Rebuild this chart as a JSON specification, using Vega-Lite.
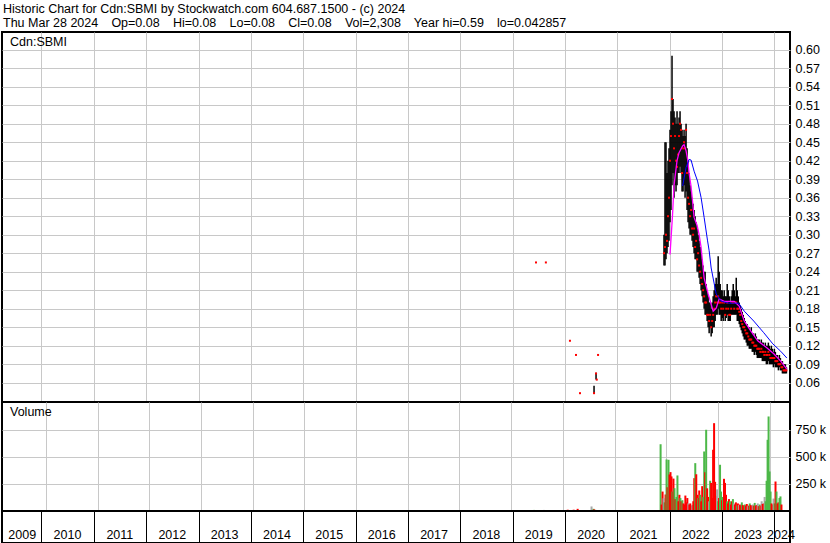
{
  "$schema": "https://vega.github.io/schema/vega-lite/v6.json",
  "padding": {"left": 1, "right": 0, "top": 2, "bottom": 1},
  "background": "white",
  "bounds": "flush",
  "config": {
    "font": "Liberation Sans",
    "view": {"stroke": "#000", "strokeWidth": 2},
    "concat": {"spacing": 0},
    "axis": {"labelFont": "Liberation Sans", "labelFontSize": 12.5, "labelColor": "#000", "gridColor": "#c8c8c8", "gridOpacity": 1, "domain": false, "ticks": false, "labelOverlap": false}
  },
  "title": {
    "text": ["Historic Chart for Cdn:SBMI by Stockwatch.com 604.687.1500 - (c) 2024", "Thu Mar 28 2024\u2002\u00a0 Op=0.08\u2002\u00a0 Hi=0.08\u2002\u00a0 Lo=0.08\u2002\u00a0 Cl=0.08\u2002\u00a0 Vol=2,308\u2002\u00a0 Year hi=0.59\u2002\u00a0 lo=0.042857"],
    "anchor": "start", "frame": "bounds", "fontSize": 12.5, "fontWeight": "normal", "color": "#000", "lineHeight": 14, "offset": 2, "dx": 2
  },
  "datasets": {
    "px": [
      {"d":"2019-06-13","h":0.255,"l":0.255,"c":0.255,"v":10000,"dir":"up"},
      {"d":"2019-08-21","h":0.255,"l":0.255,"c":0.255,"v":10000,"dir":"flat"},
      {"d":"2020-02-05","h":0.128,"l":0.128,"c":0.128,"v":12000,"dir":"down"},
      {"d":"2020-03-18","h":0.105,"l":0.105,"c":0.105,"v":12000,"dir":"down"},
      {"d":"2020-04-15","h":0.043,"l":0.043,"c":0.043,"v":20000,"dir":"down"},
      {"d":"2020-07-22","h":0.055,"l":0.043,"c":0.043,"v":42000,"dir":"flat"},
      {"d":"2020-08-05","h":0.076,"l":0.065,"c":0.075,"v":20000,"dir":"up"},
      {"d":"2020-08-10","h":0.065,"l":0.065,"c":0.065,"v":15000,"dir":"down"},
      {"d":"2020-08-19","h":0.105,"l":0.105,"c":0.105,"v":10000,"dir":"up"},
      {"d":"2021-11-22","h":0.30,"l":0.25,"c":0.27,"v":618000,"dir":"up"},
      {"d":"2021-11-29","h":0.45,"l":0.25,"c":0.28,"v":60000,"dir":"down"},
      {"d":"2021-12-06","h":0.45,"l":0.26,"c":0.30,"v":180000,"dir":"down"},
      {"d":"2021-12-13","h":0.40,"l":0.27,"c":0.29,"v":118000,"dir":"flat"},
      {"d":"2021-12-20","h":0.42,"l":0.28,"c":0.33,"v":80000,"dir":"up"},
      {"d":"2021-12-27","h":0.44,"l":0.29,"c":0.36,"v":153000,"dir":"down"},
      {"d":"2022-01-03","h":0.47,"l":0.32,"c":0.42,"v":477000,"dir":"up"},
      {"d":"2022-01-10","h":0.50,"l":0.34,"c":0.46,"v":220000,"dir":"down"},
      {"d":"2022-01-17","h":0.59,"l":0.38,"c":0.52,"v":474000,"dir":"up"},
      {"d":"2022-01-24","h":0.52,"l":0.40,"c":0.48,"v":338000,"dir":"down"},
      {"d":"2022-01-31","h":0.50,"l":0.36,"c":0.44,"v":360000,"dir":"down"},
      {"d":"2022-02-07","h":0.49,"l":0.38,"c":0.46,"v":320000,"dir":"down"},
      {"d":"2022-02-14","h":0.48,"l":0.37,"c":0.42,"v":180000,"dir":"up"},
      {"d":"2022-02-21","h":0.50,"l":0.38,"c":0.41,"v":300000,"dir":"down"},
      {"d":"2022-02-28","h":0.48,"l":0.40,"c":0.43,"v":211000,"dir":"up"},
      {"d":"2022-03-07","h":0.49,"l":0.40,"c":0.46,"v":110000,"dir":"down"},
      {"d":"2022-03-14","h":0.50,"l":0.41,"c":0.48,"v":130000,"dir":"up"},
      {"d":"2022-03-21","h":0.48,"l":0.40,"c":0.47,"v":329000,"dir":"up"},
      {"d":"2022-03-28","h":0.47,"l":0.37,"c":0.40,"v":90000,"dir":"down"},
      {"d":"2022-04-04","h":0.46,"l":0.37,"c":0.44,"v":150000,"dir":"down"},
      {"d":"2022-04-11","h":0.47,"l":0.38,"c":0.45,"v":120000,"dir":"up"},
      {"d":"2022-04-18","h":0.46,"l":0.36,"c":0.44,"v":90000,"dir":"down"},
      {"d":"2022-04-25","h":0.48,"l":0.37,"c":0.47,"v":100000,"dir":"up"},
      {"d":"2022-05-02","h":0.44,"l":0.34,"c":0.40,"v":70000,"dir":"down"},
      {"d":"2022-05-09","h":0.42,"l":0.32,"c":0.36,"v":60000,"dir":"down"},
      {"d":"2022-05-16","h":0.40,"l":0.31,"c":0.35,"v":143000,"dir":"down"},
      {"d":"2022-05-23","h":0.38,"l":0.30,"c":0.33,"v":80000,"dir":"down"},
      {"d":"2022-05-30","h":0.37,"l":0.30,"c":0.34,"v":120000,"dir":"down"},
      {"d":"2022-06-06","h":0.36,"l":0.29,"c":0.31,"v":70000,"dir":"flat"},
      {"d":"2022-06-13","h":0.35,"l":0.28,"c":0.30,"v":60000,"dir":"down"},
      {"d":"2022-06-20","h":0.34,"l":0.27,"c":0.31,"v":70000,"dir":"down"},
      {"d":"2022-06-27","h":0.33,"l":0.26,"c":0.28,"v":50000,"dir":"down"},
      {"d":"2022-07-04","h":0.32,"l":0.26,"c":0.29,"v":55000,"dir":"flat"},
      {"d":"2022-07-11","h":0.31,"l":0.24,"c":0.26,"v":90000,"dir":"down"},
      {"d":"2022-07-18","h":0.30,"l":0.24,"c":0.27,"v":304000,"dir":"down"},
      {"d":"2022-07-25","h":0.29,"l":0.23,"c":0.25,"v":443000,"dir":"up"},
      {"d":"2022-08-01","h":0.28,"l":0.22,"c":0.24,"v":340000,"dir":"down"},
      {"d":"2022-08-08","h":0.27,"l":0.21,"c":0.23,"v":150000,"dir":"down"},
      {"d":"2022-08-15","h":0.26,"l":0.20,"c":0.22,"v":120000,"dir":"up"},
      {"d":"2022-08-22","h":0.25,"l":0.19,"c":0.21,"v":190000,"dir":"down"},
      {"d":"2022-08-29","h":0.24,"l":0.18,"c":0.20,"v":150000,"dir":"up"},
      {"d":"2022-09-05","h":0.24,"l":0.17,"c":0.19,"v":90000,"dir":"down"},
      {"d":"2022-09-12","h":0.22,"l":0.17,"c":0.19,"v":230000,"dir":"down"},
      {"d":"2022-09-19","h":0.21,"l":0.16,"c":0.17,"v":130000,"dir":"up"},
      {"d":"2022-09-26","h":0.20,"l":0.15,"c":0.17,"v":551000,"dir":"up"},
      {"d":"2022-10-03","h":0.19,"l":0.14,"c":0.16,"v":359000,"dir":"down"},
      {"d":"2022-10-10","h":0.19,"l":0.15,"c":0.17,"v":752000,"dir":"up"},
      {"d":"2022-10-17","h":0.18,"l":0.135,"c":0.15,"v":210000,"dir":"down"},
      {"d":"2022-10-24","h":0.19,"l":0.14,"c":0.16,"v":130000,"dir":"down"},
      {"d":"2022-10-31","h":0.20,"l":0.15,"c":0.17,"v":90000,"dir":"flat"},
      {"d":"2022-11-07","h":0.21,"l":0.15,"c":0.18,"v":280000,"dir":"up"},
      {"d":"2022-11-14","h":0.22,"l":0.16,"c":0.19,"v":260000,"dir":"down"},
      {"d":"2022-11-21","h":0.23,"l":0.17,"c":0.20,"v":120000,"dir":"down"},
      {"d":"2022-11-28","h":0.22,"l":0.17,"c":0.19,"v":567000,"dir":"down"},
      {"d":"2022-12-05","h":0.265,"l":0.18,"c":0.20,"v":813000,"dir":"down"},
      {"d":"2022-12-12","h":0.24,"l":0.17,"c":0.19,"v":270000,"dir":"down"},
      {"d":"2022-12-19","h":0.22,"l":0.17,"c":0.19,"v":140000,"dir":"down"},
      {"d":"2022-12-26","h":0.21,"l":0.16,"c":0.18,"v":200000,"dir":"flat"},
      {"d":"2023-01-02","h":0.21,"l":0.165,"c":0.19,"v":90000,"dir":"up"},
      {"d":"2023-01-09","h":0.20,"l":0.16,"c":0.18,"v":120000,"dir":"down"},
      {"d":"2023-01-16","h":0.21,"l":0.17,"c":0.19,"v":428000,"dir":"up"},
      {"d":"2023-01-23","h":0.20,"l":0.16,"c":0.17,"v":180000,"dir":"up"},
      {"d":"2023-01-30","h":0.20,"l":0.165,"c":0.18,"v":100000,"dir":"down"},
      {"d":"2023-02-06","h":0.22,"l":0.17,"c":0.19,"v":130000,"dir":"up"},
      {"d":"2023-02-13","h":0.21,"l":0.16,"c":0.18,"v":298000,"dir":"down"},
      {"d":"2023-02-20","h":0.20,"l":0.16,"c":0.17,"v":260000,"dir":"down"},
      {"d":"2023-02-27","h":0.19,"l":0.16,"c":0.17,"v":150000,"dir":"down"},
      {"d":"2023-03-06","h":0.20,"l":0.17,"c":0.18,"v":90000,"dir":"up"},
      {"d":"2023-03-13","h":0.21,"l":0.17,"c":0.19,"v":70000,"dir":"down"},
      {"d":"2023-03-20","h":0.22,"l":0.17,"c":0.19,"v":110000,"dir":"down"},
      {"d":"2023-03-27","h":0.21,"l":0.17,"c":0.18,"v":90000,"dir":"up"},
      {"d":"2023-04-03","h":0.20,"l":0.17,"c":0.19,"v":60000,"dir":"down"},
      {"d":"2023-04-10","h":0.23,"l":0.17,"c":0.19,"v":90000,"dir":"down"},
      {"d":"2023-04-17","h":0.21,"l":0.16,"c":0.18,"v":110000,"dir":"up"},
      {"d":"2023-04-24","h":0.20,"l":0.16,"c":0.18,"v":70000,"dir":"flat"},
      {"d":"2023-05-01","h":0.19,"l":0.155,"c":0.175,"v":60000,"dir":"down"},
      {"d":"2023-05-08","h":0.185,"l":0.15,"c":0.17,"v":80000,"dir":"down"},
      {"d":"2023-05-15","h":0.18,"l":0.145,"c":0.16,"v":50000,"dir":"up"},
      {"d":"2023-05-22","h":0.175,"l":0.14,"c":0.155,"v":70000,"dir":"down"},
      {"d":"2023-05-29","h":0.17,"l":0.135,"c":0.15,"v":55000,"dir":"flat"},
      {"d":"2023-06-05","h":0.165,"l":0.13,"c":0.15,"v":60000,"dir":"down"},
      {"d":"2023-06-12","h":0.16,"l":0.13,"c":0.145,"v":50000,"dir":"down"},
      {"d":"2023-06-19","h":0.155,"l":0.125,"c":0.14,"v":80000,"dir":"up"},
      {"d":"2023-06-26","h":0.155,"l":0.12,"c":0.14,"v":55000,"dir":"down"},
      {"d":"2023-07-03","h":0.15,"l":0.12,"c":0.135,"v":45000,"dir":"down"},
      {"d":"2023-07-10","h":0.15,"l":0.115,"c":0.13,"v":60000,"dir":"up"},
      {"d":"2023-07-17","h":0.145,"l":0.115,"c":0.13,"v":50000,"dir":"down"},
      {"d":"2023-07-24","h":0.15,"l":0.115,"c":0.13,"v":65000,"dir":"down"},
      {"d":"2023-07-31","h":0.14,"l":0.11,"c":0.125,"v":45000,"dir":"flat"},
      {"d":"2023-08-07","h":0.14,"l":0.11,"c":0.125,"v":50000,"dir":"down"},
      {"d":"2023-08-14","h":0.135,"l":0.105,"c":0.12,"v":70000,"dir":"up"},
      {"d":"2023-08-21","h":0.14,"l":0.11,"c":0.12,"v":55000,"dir":"down"},
      {"d":"2023-08-28","h":0.135,"l":0.105,"c":0.12,"v":45000,"dir":"down"},
      {"d":"2023-09-04","h":0.13,"l":0.10,"c":0.115,"v":60000,"dir":"flat"},
      {"d":"2023-09-11","h":0.13,"l":0.10,"c":0.115,"v":50000,"dir":"down"},
      {"d":"2023-09-18","h":0.13,"l":0.10,"c":0.115,"v":75000,"dir":"up"},
      {"d":"2023-09-25","h":0.125,"l":0.10,"c":0.11,"v":50000,"dir":"down"},
      {"d":"2023-10-02","h":0.13,"l":0.10,"c":0.115,"v":55000,"dir":"down"},
      {"d":"2023-10-09","h":0.125,"l":0.095,"c":0.11,"v":70000,"dir":"flat"},
      {"d":"2023-10-16","h":0.125,"l":0.095,"c":0.11,"v":45000,"dir":"down"},
      {"d":"2023-10-23","h":0.12,"l":0.095,"c":0.105,"v":60000,"dir":"up"},
      {"d":"2023-10-30","h":0.125,"l":0.095,"c":0.11,"v":50000,"dir":"down"},
      {"d":"2023-11-06","h":0.12,"l":0.09,"c":0.105,"v":90000,"dir":"flat"},
      {"d":"2023-11-13","h":0.12,"l":0.09,"c":0.105,"v":65000,"dir":"down"},
      {"d":"2023-11-20","h":0.125,"l":0.095,"c":0.11,"v":70000,"dir":"down"},
      {"d":"2023-11-27","h":0.12,"l":0.09,"c":0.105,"v":130000,"dir":"flat"},
      {"d":"2023-12-04","h":0.115,"l":0.09,"c":0.10,"v":90000,"dir":"up"},
      {"d":"2023-12-11","h":0.12,"l":0.09,"c":0.10,"v":280000,"dir":"up"},
      {"d":"2023-12-18","h":0.115,"l":0.09,"c":0.10,"v":659000,"dir":"up"},
      {"d":"2023-12-25","h":0.11,"l":0.085,"c":0.10,"v":875000,"dir":"up"},
      {"d":"2024-01-01","h":0.115,"l":0.09,"c":0.10,"v":366000,"dir":"up"},
      {"d":"2024-01-08","h":0.11,"l":0.085,"c":0.095,"v":180000,"dir":"up"},
      {"d":"2024-01-15","h":0.105,"l":0.085,"c":0.095,"v":70000,"dir":"down"},
      {"d":"2024-01-22","h":0.105,"l":0.085,"c":0.095,"v":60000,"dir":"down"},
      {"d":"2024-01-29","h":0.10,"l":0.08,"c":0.09,"v":115000,"dir":"flat"},
      {"d":"2024-02-05","h":0.105,"l":0.085,"c":0.09,"v":70000,"dir":"up"},
      {"d":"2024-02-12","h":0.10,"l":0.08,"c":0.09,"v":273000,"dir":"down"},
      {"d":"2024-02-19","h":0.095,"l":0.08,"c":0.085,"v":180000,"dir":"up"},
      {"d":"2024-02-26","h":0.095,"l":0.075,"c":0.085,"v":70000,"dir":"down"},
      {"d":"2024-03-04","h":0.09,"l":0.075,"c":0.08,"v":80000,"dir":"down"},
      {"d":"2024-03-11","h":0.09,"l":0.075,"c":0.08,"v":120000,"dir":"up"},
      {"d":"2024-03-18","h":0.09,"l":0.075,"c":0.08,"v":135000,"dir":"up"},
      {"d":"2024-03-25","h":0.085,"l":0.075,"c":0.08,"v":60000,"dir":"down"}
    ],
    "ma_short": [
      {"d":"2022-01-03","m":0.268},{"d":"2022-01-20","m":0.33},{"d":"2022-01-31","m":0.38},{"d":"2022-02-21","m":0.42},
      {"d":"2022-03-07","m":0.433},{"d":"2022-04-01","m":0.444},{"d":"2022-04-11","m":0.446},{"d":"2022-04-25","m":0.436},
      {"d":"2022-05-06","m":0.422},{"d":"2022-05-16","m":0.40},{"d":"2022-05-30","m":0.378},{"d":"2022-06-09","m":0.355},
      {"d":"2022-06-20","m":0.328},{"d":"2022-07-11","m":0.315},{"d":"2022-07-25","m":0.30},{"d":"2022-08-08","m":0.279},
      {"d":"2022-08-29","m":0.23},{"d":"2022-09-26","m":0.204},{"d":"2022-10-31","m":0.176},{"d":"2022-11-21","m":0.181},
      {"d":"2022-12-12","m":0.196},{"d":"2023-01-16","m":0.192},{"d":"2023-03-27","m":0.192},{"d":"2023-05-01","m":0.184},
      {"d":"2023-06-05","m":0.160},{"d":"2023-07-20","m":0.144},{"d":"2023-09-07","m":0.128},{"d":"2023-11-13","m":0.116},
      {"d":"2023-12-28","m":0.107},{"d":"2024-02-14","m":0.095},{"d":"2024-03-28","m":0.082}
    ],
    "ma_long": [
      {"d":"2022-04-01","m":0.379},{"d":"2022-04-25","m":0.409},{"d":"2022-05-16","m":0.422},{"d":"2022-05-30","m":0.421},
      {"d":"2022-06-20","m":0.403},{"d":"2022-07-14","m":0.387},{"d":"2022-08-08","m":0.36},{"d":"2022-08-29","m":0.328},
      {"d":"2022-09-22","m":0.29},{"d":"2022-10-03","m":0.274},{"d":"2022-10-17","m":0.246},{"d":"2022-11-21","m":0.204},
      {"d":"2022-12-26","m":0.192},{"d":"2023-02-17","m":0.189},{"d":"2023-04-27","m":0.189},{"d":"2023-06-05","m":0.176},
      {"d":"2023-08-10","m":0.160},{"d":"2023-10-19","m":0.141},{"d":"2023-12-21","m":0.123},{"d":"2024-02-14","m":0.111},
      {"d":"2024-03-28","m":0.100}
    ],
    "years": [
      {"d":"2009-08-20","y":"2009"},{"d":"2010-07-02","y":"2010"},{"d":"2011-07-02","y":"2011"},{"d":"2012-07-02","y":"2012"},
      {"d":"2013-07-02","y":"2013"},{"d":"2014-07-02","y":"2014"},{"d":"2015-07-02","y":"2015"},{"d":"2016-07-02","y":"2016"},
      {"d":"2017-07-02","y":"2017"},{"d":"2018-07-02","y":"2018"},{"d":"2019-07-02","y":"2019"},{"d":"2020-07-02","y":"2020"},
      {"d":"2021-07-02","y":"2021"},{"d":"2022-07-02","y":"2022"},{"d":"2023-07-02","y":"2023"},{"d":"2024-02-16","y":"2024"}
    ]
  },
  "vconcat": [
    {
      "width": 788, "height": 370,
      "title": {"text": "Cdn:SBMI", "anchor": "start", "frame": "group", "offset": -16, "dx": 8, "fontSize": 12.5, "fontWeight": "normal", "color": "#000"},
      "encoding": {
        "x": {"field": "d", "type": "temporal", "scale": {"type": "utc", "domain": ["2009-04-01", "2024-04-19"]},
              "axis": {"title": null, "labels": false, "grid": true, "tickCount": 30, "values": [
                {"year":2010,"month":1,"date":1,"utc":true},{"year":2011,"month":1,"date":1,"utc":true},{"year":2012,"month":1,"date":1,"utc":true},
                {"year":2013,"month":1,"date":1,"utc":true},{"year":2014,"month":1,"date":1,"utc":true},{"year":2015,"month":1,"date":1,"utc":true},
                {"year":2016,"month":1,"date":1,"utc":true},{"year":2017,"month":1,"date":1,"utc":true},{"year":2018,"month":1,"date":1,"utc":true},
                {"year":2019,"month":1,"date":1,"utc":true},{"year":2020,"month":1,"date":1,"utc":true},{"year":2021,"month":1,"date":1,"utc":true},
                {"year":2022,"month":1,"date":1,"utc":true},{"year":2023,"month":1,"date":1,"utc":true},{"year":2024,"month":1,"date":1,"utc":true}]}}
      },
      "layer": [
        {
          "data": {"name": "px"},
          "mark": {"type": "rule", "color": "#000", "strokeWidth": 1.5},
          "encoding": {
            "y": {"field": "l", "type": "quantitative", "scale": {"domain": [0.0287, 0.6287], "nice": false, "zero": false},
                  "axis": {"title": null, "orient": "right", "grid": true, "labelPadding": 5, "format": ".2f", "labelOverlap": false, "tickCount": 30,
                           "values": [0.06,0.09,0.12,0.15,0.18,0.21,0.24,0.27,0.30,0.33,0.36,0.39,0.42,0.45,0.48,0.51,0.54,0.57,0.60]}},
            "y2": {"field": "h"}
          }
        },
        {
          "data": {"name": "px"},
          "mark": {"type": "square", "color": "#ff0000", "size": 4, "opacity": 1},
          "encoding": {"y": {"field": "c", "type": "quantitative"}}
        },
        {
          "data": {"name": "ma_short"},
          "mark": {"type": "line", "color": "#ff00ff", "strokeWidth": 1.3},
          "encoding": {"y": {"field": "m", "type": "quantitative"}}
        },
        {
          "data": {"name": "ma_long"},
          "mark": {"type": "line", "color": "#0000ff", "strokeWidth": 1},
          "encoding": {"y": {"field": "m", "type": "quantitative"}}
        }
      ]
    },
    {
      "width": 788, "height": 109,
      "title": {"text": "Volume", "anchor": "start", "frame": "group", "offset": -16, "dx": 8, "fontSize": 12.5, "fontWeight": "normal", "color": "#000"},
      "data": {"name": "px"},
      "mark": {"type": "bar", "size": 2},
      "encoding": {
        "x": {"field": "d", "type": "temporal", "scale": {"type": "utc", "domain": ["2009-04-01", "2024-04-19"]},
              "axis": {"title": null, "labels": false, "grid": true, "tickCount": 30, "values": [
                {"year":2010,"month":1,"date":1,"utc":true},{"year":2011,"month":1,"date":1,"utc":true},{"year":2012,"month":1,"date":1,"utc":true},
                {"year":2013,"month":1,"date":1,"utc":true},{"year":2014,"month":1,"date":1,"utc":true},{"year":2015,"month":1,"date":1,"utc":true},
                {"year":2016,"month":1,"date":1,"utc":true},{"year":2017,"month":1,"date":1,"utc":true},{"year":2018,"month":1,"date":1,"utc":true},
                {"year":2019,"month":1,"date":1,"utc":true},{"year":2020,"month":1,"date":1,"utc":true},{"year":2021,"month":1,"date":1,"utc":true},
                {"year":2022,"month":1,"date":1,"utc":true},{"year":2023,"month":1,"date":1,"utc":true},{"year":2024,"month":1,"date":1,"utc":true}]}},
        "y": {"field": "v", "type": "quantitative", "scale": {"domain": [0, 1009000], "nice": false},
              "axis": {"title": null, "orient": "right", "grid": true, "labelPadding": 5, "tickCount": 10, "values": [250000, 500000, 750000], "labelExpr": "datum.value / 1000 + ' k'"}},
        "color": {"field": "dir", "type": "nominal", "scale": {"domain": ["up", "down", "flat"], "range": ["#4cb848", "#ff0000", "#a8a8a8"]}, "legend": null}
      }
    },
    {
      "width": 788, "height": 32,
      "encoding": {
        "x": {"field": "d", "type": "temporal", "scale": {"type": "utc", "domain": ["2009-04-01", "2024-04-19"]},
              "axis": {"title": null, "labels": false, "grid": true, "gridColor": "#000", "tickCount": 30, "values": [
                {"year":2010,"month":1,"date":1,"utc":true},{"year":2011,"month":1,"date":1,"utc":true},{"year":2012,"month":1,"date":1,"utc":true},
                {"year":2013,"month":1,"date":1,"utc":true},{"year":2014,"month":1,"date":1,"utc":true},{"year":2015,"month":1,"date":1,"utc":true},
                {"year":2016,"month":1,"date":1,"utc":true},{"year":2017,"month":1,"date":1,"utc":true},{"year":2018,"month":1,"date":1,"utc":true},
                {"year":2019,"month":1,"date":1,"utc":true},{"year":2020,"month":1,"date":1,"utc":true},{"year":2021,"month":1,"date":1,"utc":true},
                {"year":2022,"month":1,"date":1,"utc":true},{"year":2023,"month":1,"date":1,"utc":true},{"year":2024,"month":1,"date":1,"utc":true}]}}
      },
      "layer": [
        {
          "data": {"name": "years"},
          "mark": {"type": "text", "fontSize": 12.5, "color": "#000", "baseline": "middle", "align": "center"},
          "encoding": {
            "y": {"datum": 0.5, "type": "quantitative", "scale": {"domain": [0, 2], "nice": false, "zero": false}, "axis": null},
            "text": {"field": "y"}
          }
        },
        {
          "data": {"values": [{}]},
          "mark": {"type": "rule", "color": "#000", "strokeWidth": 2},
          "encoding": {"y": {"datum": 1, "type": "quantitative"}}
        }
      ]
    }
  ]
}
